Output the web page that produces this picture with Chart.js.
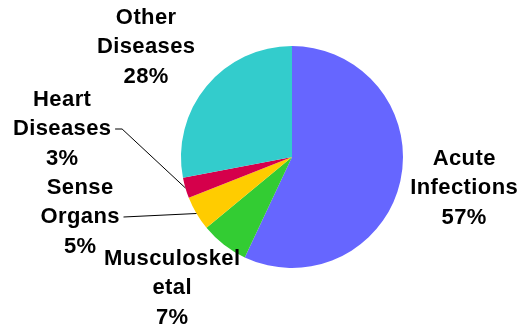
<!DOCTYPE html>
<html>
<head>
<meta charset="utf-8">
<script src="https://cdn.jsdelivr.net/npm/chart.js@4"></script>
<style>
  html, body { margin: 0; padding: 0; background: #fff; }
  #wrap { width: 519px; height: 330px; }
</style>
</head>
<body>
<div id="wrap"><canvas id="pie" width="519" height="330"></canvas></div>
<script>
// categories and shares (%)
const categories = ["Acute\nInfections", "Musculoskel\netal", "Sense\nOrgans", "Heart\nDiseases", "Other\nDiseases"];
const shares = [57, 7, 5, 3, 28];
const sliceColors = ["#6666ff", "#33cc33", "#ffcc00", "#d5004b", "#33cccc"];

// where each label sits, relative to the pie centre (px), and which get a leader line
const labelOffsets = [[172, 31], [-120, 131], [-212, 60], [-230, -28], [-146, -110]];
const leaders = [false, false, true, true, false];

const FONT = "bold 22px 'Liberation Sans', Arial, sans-serif";
const SPACING = 0.4;
const LINE_H = 29.5;

const outsideLabels = {
  id: "outsideLabels",
  afterDatasetsDraw(chart) {
    const ctx = chart.ctx;
    const arcs = chart.getDatasetMeta(0).data;
    ctx.save();
    ctx.font = FONT;
    ctx.letterSpacing = SPACING + "px";
    ctx.fillStyle = "#000";
    ctx.textAlign = "center";
    ctx.textBaseline = "middle";
    arcs.forEach((arc, i) => {
      const cx = arc.x + labelOffsets[i][0];
      const cy = arc.y + labelOffsets[i][1];
      const lines = categories[i].split("\n").concat([shares[i] + "%"]);
      lines.forEach((t, k) => {
        ctx.fillText(t, cx + SPACING / 2, cy + (k - 1) * LINE_H);
      });
      if (leaders[i]) {
        const w = ctx.measureText(lines[1]).width - SPACING;
        const sx = cx + w / 2 + 4;
        const ly = cy;
        const mid = (arc.startAngle + arc.endAngle) / 2;
        const ex = arc.x + arc.outerRadius * Math.cos(mid);
        const ey = arc.y + arc.outerRadius * Math.sin(mid);
        ctx.strokeStyle = "#000";
        ctx.lineWidth = 1;
        ctx.beginPath();
        ctx.moveTo(sx, ly);
        if (i === 3) ctx.lineTo(sx + 7, ly);
        ctx.lineTo(ex, ey);
        ctx.stroke();
      }
    });
    ctx.restore();
  }
};

new Chart(document.getElementById("pie"), {
  type: "pie",
  data: {
    labels: categories,
    datasets: [{
      data: shares,
      backgroundColor: sliceColors,
      borderWidth: 0
    }]
  },
  options: {
    responsive: false,
    animation: false,
    layout: { padding: { left: 181, right: 116, top: 46, bottom: 62 } },
    plugins: {
      legend: { display: false },
      tooltip: { enabled: false }
    }
  },
  plugins: [outsideLabels]
});
</script>
</body>
</html>
